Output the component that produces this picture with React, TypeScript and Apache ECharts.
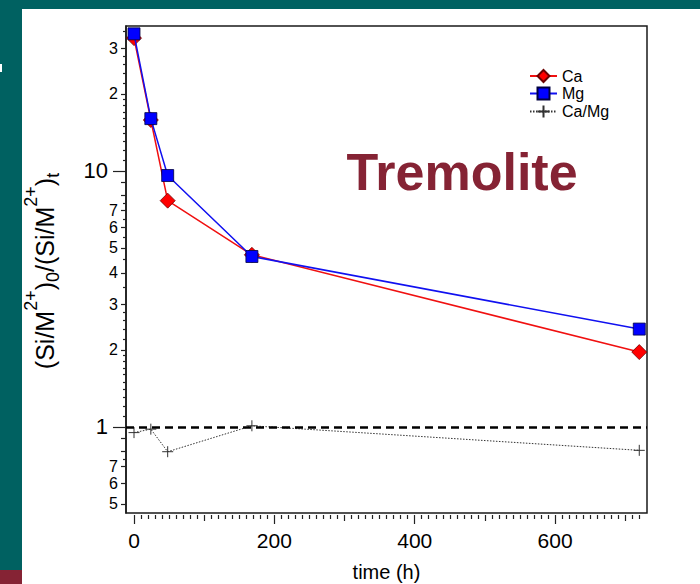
import React, { useEffect, useRef } from 'react';
import * as echarts from 'echarts';

// ---- data ----
const times = [0, 24, 48, 168, 720];
const caValues = [33.0, 15.8, 7.65, 4.7, 1.96];
const mgValues = [34.3, 16.0, 9.59, 4.63, 2.41];
const ratioValues = [0.95, 0.98, 0.8, 1.01, 0.81];
const referenceLevel = 1;

const seriesNames = ['Ca', 'Mg', 'Ca/Mg'];

// axis ranges
const xMin = -11.4;
const xMax = 731;
const yMin = 0.461;
const yMax = 36.8;

// x ticks
const xMajorTicks = [0, 200, 400, 600];
const xMediumTicks = [100, 300, 500, 700];
const xMinorStep = 10;
const xMinorLast = 720;

// y ticks (log axis) and their printed labels
const yMajorTicks = [1, 10];
const yMajorLabels = ['1', '10'];
const yMediumTicks = [0.5, 0.6, 0.7, 0.8, 0.9, 2, 3, 4, 5, 6, 7, 8, 9, 20, 30];
const yMediumLabelValues = [0.5, 0.6, 0.7, 2, 3, 4, 5, 6, 7, 20, 30];
const yMediumLabelTexts = ['5', '6', '7', '2', '3', '4', '5', '6', '7', '2', '3'];
const yMinorTicks = [
  0.75, 1.1, 1.2, 1.3, 1.4, 1.5, 1.6, 1.7, 1.8, 1.9, 2.2, 2.4, 2.6, 2.8, 3.5, 4.5, 5.5, 6.5, 7.5,
  11, 12, 13, 14, 15, 16, 17, 18, 19, 22, 24, 26, 28, 35,
];

const titleText = 'Tremolite';
const xName = 'time (h)';

const FONT = "'Liberation Sans', Arial, Helvetica, sans-serif";
const TEAL = '#006161';
const MAROON = '#852334';

const lg = (v: number) => Math.log10(v);

function labelFor(values: number[], texts: string[]) {
  return (v: number) => {
    for (let i = 0; i < values.length; i++) {
      if (Math.abs(lg(values[i]) - v) < 1e-6) return texts[i];
    }
    return '';
  };
}

function measure(text: string, size: number) {
  const c = document.createElement('canvas').getContext('2d')!;
  c.font = `${size}px 'Liberation Sans', Arial, sans-serif`;
  return c.measureText(text).width;
}

function buildYTitle() {
  const MAIN = 25;
  const SMALL = 18;
  const parts: [string, 'main' | 'sup' | 'sub'][] = [
    ['(Si/M', 'main'],
    ['2+', 'sup'],
    [')', 'main'],
    ['0', 'sub'],
    ['/(Si/M', 'main'],
    ['2+', 'sup'],
    [')', 'main'],
    ['t', 'sub'],
  ];
  const widths = parts.map(([t, k]) => measure(t, k === 'main' ? MAIN : SMALL));
  const total = widths.reduce((a, b) => a + b, 0);
  let x = -total / 2;
  const children: any[] = [];
  parts.forEach(([t, k], i) => {
    const fs = k === 'main' ? MAIN : SMALL;
    const baseline = k === 'main' ? 0 : k === 'sup' ? -17 : 5;
    children.push({
      type: 'text',
      x,
      y: baseline - 0.3465 * fs,
      style: {
        text: t,
        fontSize: fs,
        fontFamily: FONT,
        fill: '#000',
        align: 'left',
        verticalAlign: 'middle',
      },
    });
    x += widths[i];
  });
  return {
    type: 'group',
    x: 54,
    y: 271,
    rotation: Math.PI / 2,
    children,
  };
}

export default function App() {
  const ref = useRef<HTMLDivElement>(null);

  useEffect(() => {
    document.body.style.margin = '0';
    const chart = echarts.init(ref.current!, null, { renderer: 'svg' });

    const xMinor: number[] = [];
    for (let v = xMinorStep; v <= xMinorLast; v += xMinorStep) {
      if (!xMajorTicks.includes(v) && !xMediumTicks.includes(v)) xMinor.push(v);
    }

    const xBase = {
      type: 'value',
      min: xMin,
      max: xMax,
      position: 'bottom',
      offset: 2,
      axisLine: { show: false, onZero: false },
      splitLine: { show: false },
      axisLabel: { show: false },
    };
    const tickStyle = { color: '#222', width: 1.2 };

    const yBase = {
      type: 'value',
      min: lg(yMin),
      max: lg(yMax),
      position: 'left',
      axisLine: { show: false, onZero: false },
      splitLine: { show: false },
      axisLabel: { show: false },
    };

    const option: any = {
      animation: false,
      backgroundColor: '#fff',
      textStyle: { fontFamily: FONT },
      grid: {
        left: 126,
        top: 26,
        right: 53,
        bottom: 71,
        show: true,
        containLabel: false,
        outerBoundsMode: 'none',
        borderColor: '#1a1a1a',
        borderWidth: 1.5,
        backgroundColor: 'transparent',
      },
      legend: {
        data: seriesNames,
        orient: 'vertical',
        left: 529,
        top: 68,
        padding: 0,
        itemWidth: 27,
        itemHeight: 15,
        itemGap: 1.5,
        textStyle: { fontSize: 16, color: '#000', fontFamily: FONT },
      },
      xAxis: [
        {
          ...xBase,
          axisTick: { show: true, length: 9, customValues: xMajorTicks, lineStyle: tickStyle },
          axisLabel: {
            show: true,
            customValues: xMajorTicks,
            fontSize: 21,
            color: '#000',
            fontFamily: FONT,
            margin: 15,
          },
          name: xName,
          nameLocation: 'middle',
          nameGap: 47,
          nameTextStyle: { fontSize: 20, color: '#000', fontFamily: FONT },
        },
        { ...xBase, axisTick: { show: true, length: 6, customValues: xMediumTicks, lineStyle: tickStyle } },
        { ...xBase, axisTick: { show: true, length: 4, customValues: xMinor, lineStyle: tickStyle } },
      ],
      yAxis: [
        {
          type: 'log',
          logBase: 10,
          min: yMin,
          max: yMax,
          position: 'left',
          axisLine: { show: true, onZero: false, lineStyle: { color: '#1a1a1a', width: 1.5 } },
          axisTick: { show: false },
          axisLabel: { show: false },
          splitLine: { show: false },
          minorTick: { show: false },
        },
        {
          ...yBase,
          axisTick: { show: true, length: 13, customValues: yMajorTicks.map(lg), lineStyle: tickStyle },
          axisLabel: {
            show: true,
            customValues: yMajorTicks.map(lg),
            formatter: labelFor(yMajorTicks, yMajorLabels),
            fontSize: 22,
            color: '#000',
            fontFamily: FONT,
            margin: 18,
          },
        },
        {
          ...yBase,
          axisTick: { show: true, length: 5, customValues: yMediumTicks.map(lg), lineStyle: tickStyle },
          axisLabel: {
            show: true,
            customValues: yMediumLabelValues.map(lg),
            formatter: labelFor(yMediumLabelValues, yMediumLabelTexts),
            fontSize: 16,
            color: '#000',
            fontFamily: FONT,
            margin: 8,
          },
        },
        {
          ...yBase,
          axisTick: { show: true, length: 3, customValues: yMinorTicks.map(lg), lineStyle: tickStyle },
        },
      ],
      series: [
        {
          name: seriesNames[0],
          type: 'line',
          xAxisIndex: 0,
          yAxisIndex: 0,
          data: times.map((t, i) => [t, caValues[i]]),
          symbol: 'diamond',
          symbolSize: 15,
          itemStyle: { color: '#ff0000', borderColor: '#6b0000', borderWidth: 0.8 },
          lineStyle: { color: '#f01010', width: 1.5 },
          z: 2,
        },
        {
          name: seriesNames[1],
          type: 'line',
          xAxisIndex: 0,
          yAxisIndex: 0,
          data: times.map((t, i) => [t, mgValues[i]]),
          symbol: 'rect',
          symbolSize: 12,
          itemStyle: { color: '#0000ff', borderColor: '#000040', borderWidth: 0.8 },
          lineStyle: { color: '#1010f0', width: 1.5 },
          z: 3,
        },
        {
          name: seriesNames[2],
          type: 'line',
          xAxisIndex: 0,
          yAxisIndex: 0,
          data: times.map((t, i) => [t, ratioValues[i]]),
          symbol: 'path://M0,6H12M6,0V12',
          symbolSize: 11,
          itemStyle: { color: 'none', borderColor: '#333', borderWidth: 1 },
          lineStyle: { color: '#333', width: 1, type: [1.5, 1.5] },
          z: 4,
          markLine: {
            silent: true,
            symbol: 'none',
            label: { show: false },
            lineStyle: { color: '#000', width: 2.5, type: [8, 5] },
            data: [{ yAxis: referenceLevel }],
          },
        },
      ],
      graphic: [
        { type: 'rect', shape: { x: 0, y: 0, width: 700, height: 9 }, style: { fill: TEAL }, silent: true },
        { type: 'rect', shape: { x: 0, y: 0, width: 22, height: 584 }, style: { fill: TEAL }, silent: true },
        { type: 'rect', shape: { x: 0, y: 570, width: 22, height: 14 }, style: { fill: MAROON }, silent: true },
        { type: 'rect', shape: { x: 0, y: 64, width: 2, height: 8 }, style: { fill: '#ffffff' }, silent: true },
        {
          type: 'text',
          x: 462,
          y: 172,
          style: {
            text: titleText,
            fontSize: 52,
            fontWeight: 'bold',
            fontFamily: FONT,
            fill: MAROON,
            align: 'center',
            verticalAlign: 'middle',
          },
        },
        buildYTitle(),
      ],
    };

    chart.setOption(option);
    return () => chart.dispose();
  }, []);

  return <div ref={ref} style={{ width: 700, height: 584 }} />;
}
